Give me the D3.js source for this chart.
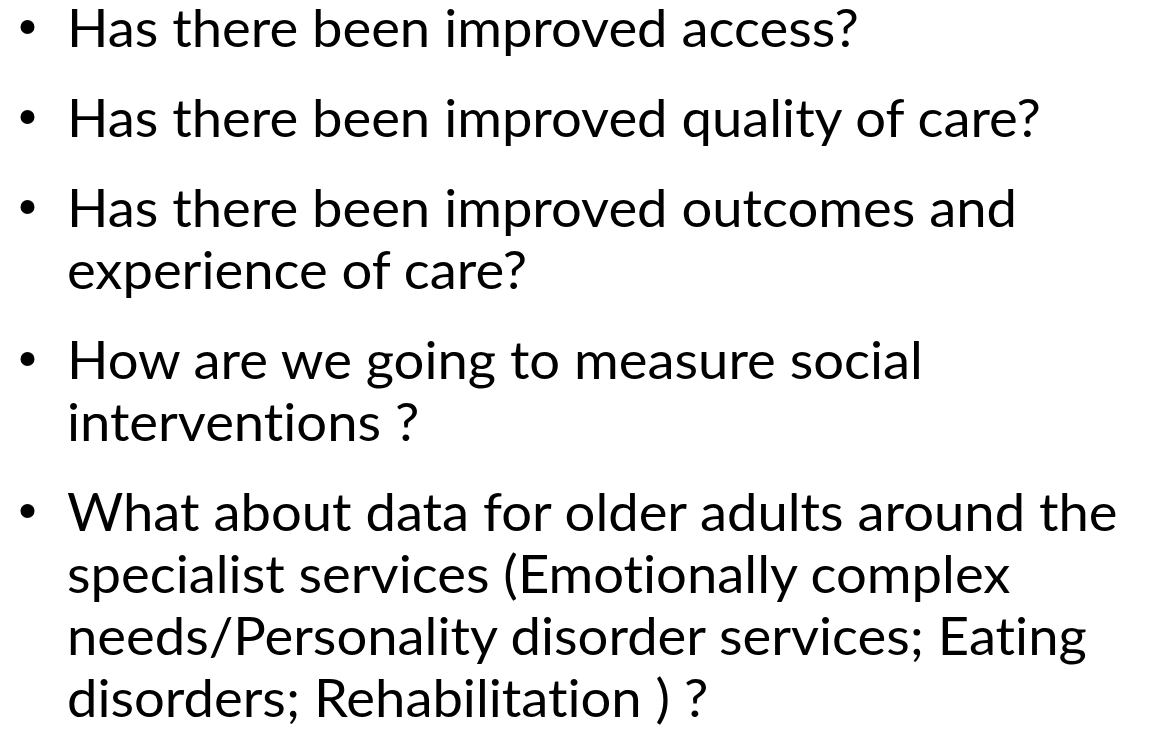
<!DOCTYPE html>
<html>
<head>
<meta charset="utf-8">
<script src="https://cdn.jsdelivr.net/npm/d3@7"></script>
<style>
	body { margin: 0; background: #fff; }
	svg { display: block; }
	text { font-variant-ligatures: none; font-feature-settings: "liga" 0, "dlig" 0; }
</style>
</head>
<body>
<div id="slide"></div>
<script>
var width = 1153,
	height = 731;

// one entry per bullet, already broken into the lines of the original slide
var bullets = [
	["Has there been improved access?"],
	["Has there been improved quality of care?"],
	["Has there been improved outcomes and", "experience of care?"],
	["How are we going to measure social", "interventions ?"],
	["What about data for older adults around the",
	 "specialist services (Emotionally complex",
	 "needs/Personality disorder services; Eating",
	 "disorders; Rehabilitation ) ?"]
];

var fontSize = 52,
	textX = 67,
	bulletX = 27.5,
	firstBaseline = 47,
	lineStep = 62,
	paraGap = 28,
	widestLine = 1051; // width of the longest line in the reference

var lines = [];
var lineCount = 0;
bullets.forEach(function(b, i) {
	b.forEach(function(t, j) {
		lines.push({text: t, para: i, first: j === 0, row: lineCount});
		lineCount += 1;
	});
});

var y = function(d) {
	return firstBaseline + d.row * lineStep + d.para * paraGap;
};

var svg = d3.select("#slide")
	.append("svg")
		.attr("width", width)
		.attr("height", height);

svg.append("rect")
	.attr("width", width)
	.attr("height", height)
	.attr("fill", "#fff");

var textG = svg.append("g");

var texts = textG.selectAll("text")
	.data(lines)
	.enter()
	.append("text")
		.attr("x", 0)
		.attr("y", y)
		.attr("font-family", "Lato, 'Open Sans', sans-serif")
		.attr("font-size", fontSize)
		.attr("fill", "#000")
		.text(function(d) { return d.text; });

// squeeze horizontally so the lines come out as wide as the narrow original face
var longest = d3.max(texts.nodes(), function(n) { return n.getComputedTextLength(); });
var sx = widestLine / longest;
textG.attr("transform", "translate(" + textX + ",0) scale(" + sx + ",1)");

svg.selectAll("circle.bullet")
	.data(lines.filter(function(d) { return d.first; }))
	.enter()
	.append("circle")
		.attr("class", "bullet")
		.attr("cx", bulletX)
		.attr("cy", function(d) { return y(d) - 20; })
		.attr("r", 7)
		.attr("fill", "#000");
</script>
</body>
</html>
